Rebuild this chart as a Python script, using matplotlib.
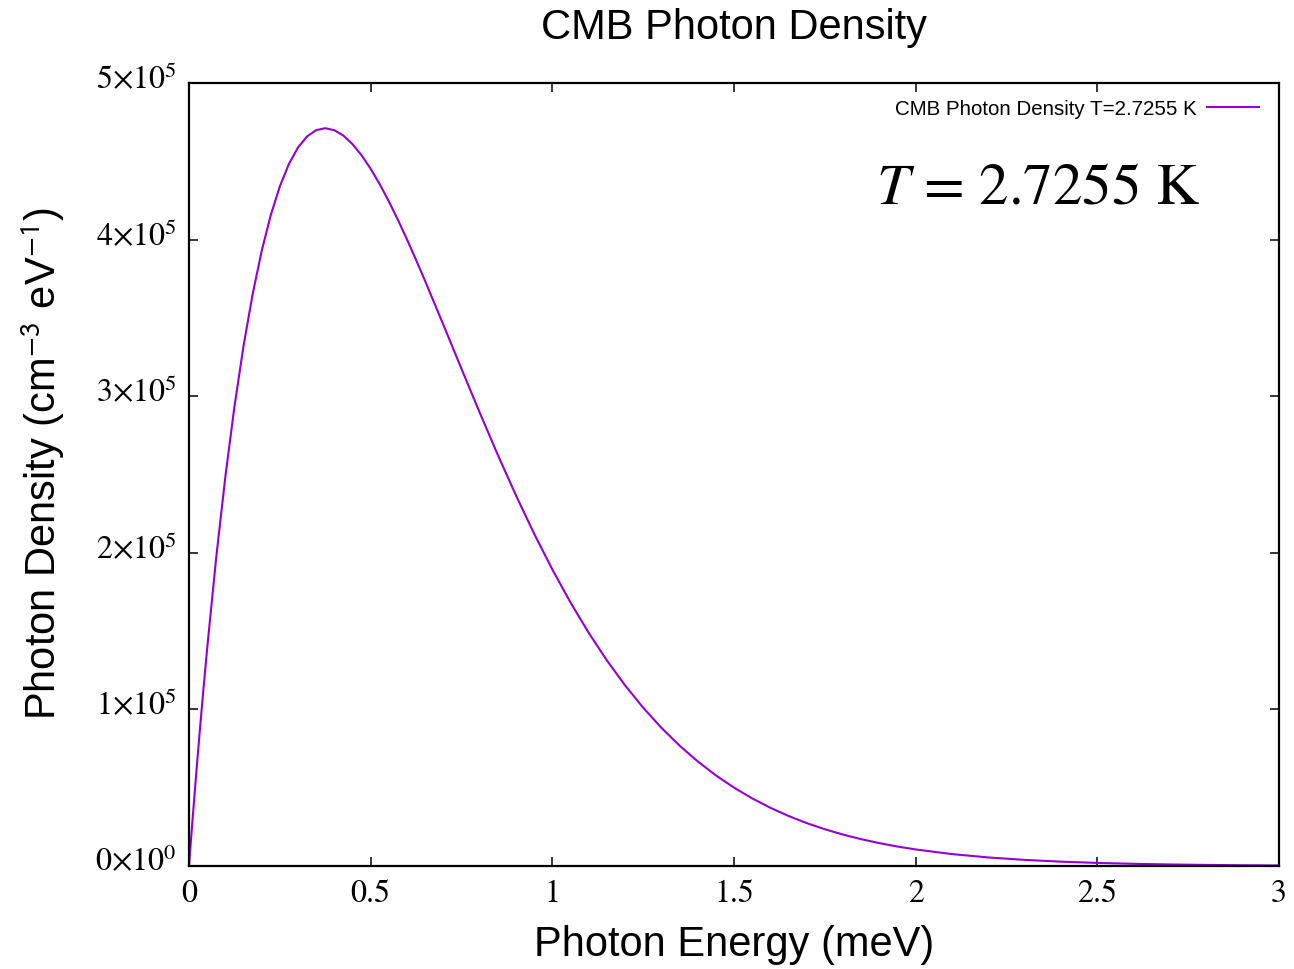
#!/usr/bin/env python3

import matplotlib
matplotlib.use("Agg")
import matplotlib.pyplot as plt
import matplotlib.transforms as mtransforms

########################################################################################################################

# photon energy (meV) and photon density (cm^-3 eV^-1)
energy = [0.0, 0.01, 0.02, 0.03, 0.04, 0.05, 0.075, 0.1, 0.125, 0.15, 0.175, 0.2, 0.225, 0.25, 0.275,
          0.3, 0.325, 0.35, 0.375, 0.4, 0.425, 0.45, 0.475, 0.5, 0.525, 0.55, 0.575, 0.6, 0.625, 0.65,
          0.7, 0.75, 0.8, 0.85, 0.9, 0.95,
          1.0, 1.05, 1.1, 1.15, 1.2, 1.25, 1.3, 1.35, 1.4, 1.45, 1.5, 1.55, 1.6, 1.65, 1.7, 1.75,
          1.8, 1.85, 1.9, 1.95, 2.0, 2.1, 2.2, 2.3, 2.4, 2.5, 2.6, 2.7, 2.8, 2.9, 3.0]
density = [0, 30320, 59350, 87120, 113650, 138970, 197190, 248470, 293250, 331940, 364960, 392720, 415610, 434000, 448290,
           458810, 465910, 469910, 471130, 469870, 466390, 460960, 453830, 445230, 435370, 424430, 412630, 400100, 387000, 373480,
           345660, 317450, 289560, 262480, 236590, 212160,
           189360, 168270, 148930, 131330, 115410, 101100, 88300, 76900, 66810, 57890, 50060, 43190, 37180, 31950, 27410, 23470,
           20070, 17130, 14610, 12430, 10570, 7610, 5460, 3900, 2770, 1970, 1390, 980, 690, 480, 340]

xticks = [0, 0.5, 1, 1.5, 2, 2.5, 3]
xtickLabels = ['0', '0.5', '1', '1.5', '2', '2.5', '3']
yticks = [0, 1e5, 2e5, 3e5, 4e5, 5e5]
ytickLabels = [r'$0{\times}10^{0}$', r'$1{\times}10^{5}$', r'$2{\times}10^{5}$',
               r'$3{\times}10^{5}$', r'$4{\times}10^{5}$', r'$5{\times}10^{5}$']

########################################################################################################################

plt.rcParams['mathtext.fontset'] = 'stix'
plt.rcParams['font.family'] = ['Liberation Sans', 'DejaVu Sans']

W, H = 1294, 970
fig = plt.figure(figsize=(W / 100, H / 100), dpi=100)
L, R, T, B = 189, 1279, 84, 867
ax = fig.add_axes([L / W, 1 - B / H, (R - L) / W, (B - T) / H])

ax.plot(energy, density, color='#9400D3', linewidth=1.5, label='CMB Photon Density T=2.7255 K')

ax.set_xlim(0, 3)
ax.set_ylim(0, 5e5)
ax.set_xticks(xticks)
ax.set_xticklabels(xtickLabels, family='STIXGeneral', fontsize=23)
ax.set_yticks(yticks)
ax.set_yticklabels(ytickLabels, fontsize=23)
ax.tick_params(direction='in', length=6.5, width=1.1, top=True, right=True)
ax.tick_params(axis='x', pad=9)
ax.tick_params(axis='y', pad=9)
for s in ax.spines.values():
    s.set_linewidth(1.6)

# gnuplot puts the y labels a little above their ticks
shift = mtransforms.ScaledTranslation(0, 6 / 72, fig.dpi_scale_trans)
for lab in ax.get_yticklabels():
    lab.set_transform(lab.get_transform() + shift)

ax.set_xlabel('Photon Energy (meV)', fontsize=30)
ax.xaxis.set_label_coords(0.5, -0.0996)
ax.xaxis.label.set_va('center')
ax.set_ylabel(r'Photon Density (cm$^{\mathsf{-3}}$ eV$^{\mathsf{-1}}$)', fontsize=30)
ax.yaxis.set_label_coords(-0.134, 0.515)
ax.yaxis.label.set_va('center')

fig.text(734 / W, 1 - 28 / H, 'CMB Photon Density', fontsize=30, ha='center', va='center')
fig.text(876 / W, 1 - 190 / H, r'$T$ = 2.7255 K', family='STIXGeneral', fontsize=42.5, va='center')

ax.legend(loc='upper right', frameon=False, markerfirst=False, fontsize=14.8,
          handlelength=2.5, handletextpad=0.5, borderaxespad=0.4,
          bbox_to_anchor=(0.9965, 1.0))

plt.savefig('out.png', dpi=100)
